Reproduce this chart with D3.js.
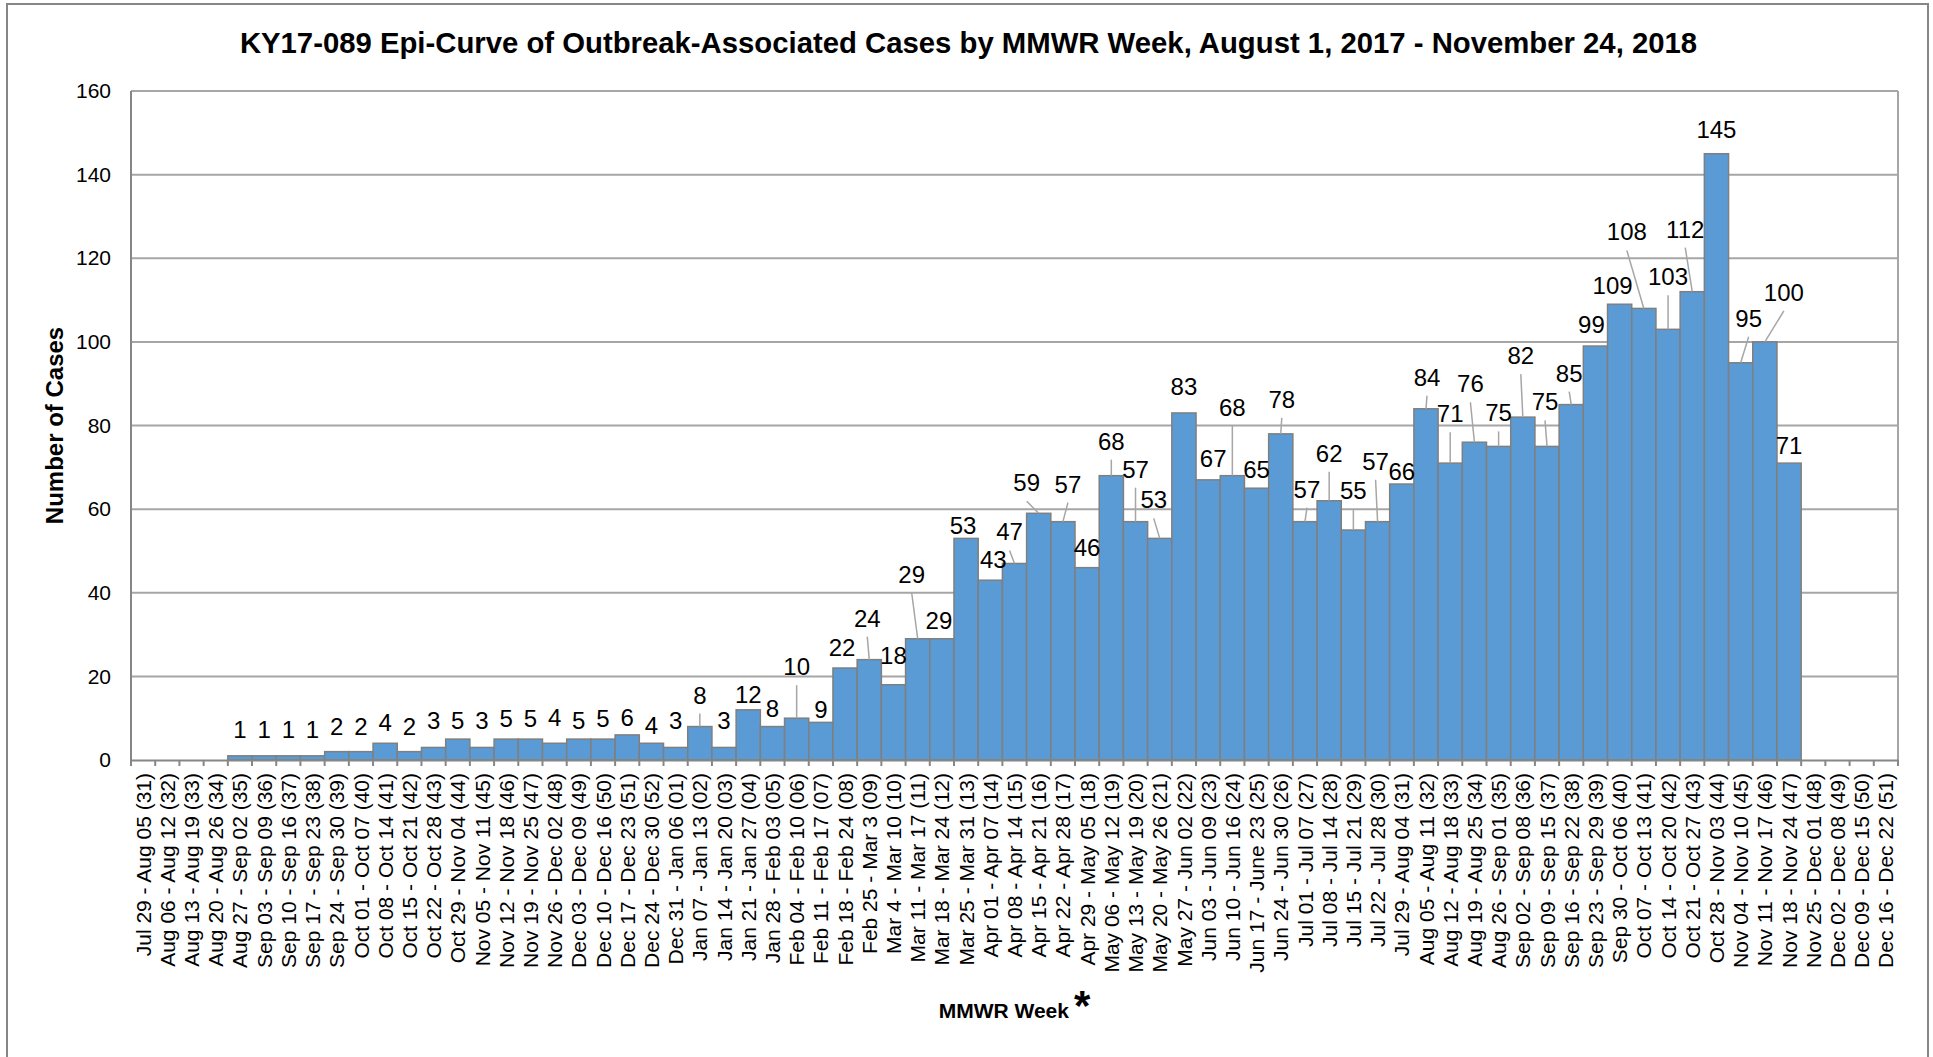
<!DOCTYPE html>
<html>
<head>
<meta charset="utf-8">
<script src="https://cdn.jsdelivr.net/npm/d3@7"></script>
<style>
  html, body { margin: 0; padding: 0; background: #fff; }
  svg { display: block; font-family: "Liberation Sans", Arial, sans-serif; }
</style>
</head>
<body>
<svg id="chart" width="1933" height="1057"></svg>
<script>
// ---------------- DATA ----------------
const chartTitle = "KY17-089 Epi-Curve of Outbreak-Associated Cases by MMWR Week, August 1, 2017 - November 24, 2018";
const yAxisTitle = "Number of Cases";
const xAxisTitle = "MMWR Week";

const weeks = [
  "Jul 29 - Aug 05 (31)", "Aug 06 - Aug 12 (32)", "Aug 13 - Aug 19 (33)", "Aug 20 - Aug 26 (34)",
  "Aug 27 - Sep 02 (35)", "Sep 03 - Sep 09 (36)", "Sep 10 - Sep 16 (37)", "Sep 17 - Sep 23 (38)",
  "Sep 24 - Sep 30 (39)", "Oct 01 - Oct 07 (40)", "Oct 08 - Oct 14 (41)", "Oct 15 - Oct 21 (42)",
  "Oct 22 - Oct 28 (43)", "Oct 29 - Nov 04 (44)", "Nov 05 - Nov 11 (45)", "Nov 12 - Nov 18 (46)",
  "Nov 19 - Nov 25 (47)", "Nov 26 - Dec 02 (48)", "Dec 03 - Dec 09 (49)", "Dec 10 - Dec 16 (50)",
  "Dec 17 - Dec 23 (51)", "Dec 24 - Dec 30 (52)", "Dec 31 - Jan 06 (01)", "Jan 07 - Jan 13 (02)",
  "Jan 14 - Jan 20 (03)", "Jan 21 - Jan 27 (04)", "Jan 28 - Feb 03 (05)", "Feb 04 - Feb 10 (06)",
  "Feb 11 - Feb 17 (07)", "Feb 18 - Feb 24 (08)", "Feb 25 - Mar 3 (09)", "Mar 4 - Mar 10 (10)",
  "Mar 11 - Mar 17 (11)", "Mar 18 - Mar 24 (12)", "Mar 25 - Mar 31 (13)", "Apr 01 - Apr 07 (14)",
  "Apr 08 - Apr 14 (15)", "Apr 15 - Apr 21 (16)", "Apr 22 - Apr 28 (17)", "Apr 29 - May 05 (18)",
  "May 06 - May 12 (19)", "May 13 - May 19 (20)", "May 20 - May 26 (21)", "May 27 - Jun 02 (22)",
  "Jun 03 - Jun 09 (23)", "Jun 10 - Jun 16 (24)", "Jun 17 - June 23 (25)", "Jun 24 - Jun 30 (26)",
  "Jul 01 - Jul 07 (27)", "Jul 08 - Jul 14 (28)", "Jul 15 - Jul 21 (29)", "Jul 22 - Jul 28 (30)",
  "Jul 29 - Aug 04 (31)", "Aug 05 - Aug 11 (32)", "Aug 12 - Aug 18 (33)", "Aug 19 - Aug 25 (34)",
  "Aug 26 - Sep 01 (35)", "Sep 02 - Sep 08 (36)", "Sep 09 - Sep 15 (37)", "Sep 16 - Sep 22 (38)",
  "Sep 23 - Sep 29 (39)", "Sep 30 - Oct 06 (40)", "Oct 07 - Oct 13 (41)", "Oct 14 - Oct 20 (42)",
  "Oct 21 - Oct 27 (43)", "Oct 28 - Nov 03 (44)", "Nov 04 - Nov 10 (45)", "Nov 11 - Nov 17 (46)",
  "Nov 18 - Nov 24 (47)", "Nov 25 - Dec 01 (48)", "Dec 02 - Dec 08 (49)", "Dec 09 - Dec 15 (50)",
  "Dec 16 - Dec 22 (51)"
];

const cases = [
  0, 0, 0, 0, 1, 1, 1, 1, 2, 2, 4, 2, 3, 5, 3, 5, 5, 4, 5, 5, 6, 4,
  3, 8, 3, 12, 8, 10, 9, 22, 24, 18, 29, 29, 53, 43, 47, 59, 57, 46, 68, 57, 53, 83,
  67, 68, 65, 78, 57, 62, 55, 57, 66, 84, 71, 76, 75, 82, 75, 85, 99, 109, 108, 103, 112, 145,
  95, 100, 71, 0, 0, 0, 0
];

const yTicks = [0, 20, 40, 60, 80, 100, 120, 140, 160];

// ------------- LABEL LAYOUT (annotation placement, not data) -------------
// per bar: [lift above bar top in px, horizontal shift in px, leader line?]
const labelLayout = {
  4:[18,0,0],5:[18,0,0],6:[18,0,0],7:[18,0,0],8:[17,0,0],9:[17,0,0],10:[12,0,0],11:[17,0,0],
  12:[18,0,0],13:[10,0,0],14:[18,0,0],15:[12,0,0],16:[12,0,0],17:[17,0,0],18:[10,0,0],19:[12,0,0],
  20:[9,0,0],21:[9,0,0],22:[18,0,0],23:[23,0,1],24:[18,0,0],25:[7,0,0],26:[10,0,0],27:[43,0,1],
  28:[4,0,0],29:[12,-3,0],30:[33,-2,1],31:[21,0,0],32:[56,-6,1],33:[10,-3,0],34:[4,-3,0],35:[12,3,0],
  36:[23,-5,1],37:[22,-12,1],38:[29,5,1],39:[12,0,0],40:[26,0,1],41:[44,0,1],42:[30,-6,1],43:[18,0,0],
  44:[13,5,0],45:[60,0,1],46:[10,0,0],47:[26,1,1],48:[24,2,1],49:[39,0,1],50:[31,0,1],51:[52,-2,1],
  52:[4,0,0],53:[23,1,1],54:[41,0,1],55:[50,-4,1],56:[25,0,1],57:[53,-2,1],58:[36,-2,1],59:[23,-2,1],
  60:[13,-4,0],61:[10,-7,0],62:[68,-17,1],63:[44,0,1],64:[54,-7,1],65:[16,0,0],66:[36,8,1],67:[41,19,1],
  68:[9,0,0]
};

// ---------------- CHART ----------------
const svg = d3.select("#chart");
const W = 1933, H = 1057;
const m = { left: 131, right: 1898, top: 91, bottom: 760 };

const gridColor = "#a6a6a6";
const axisColor = "#868686";
const FONT = "'Liberation Sans', Arial, sans-serif";

// outer frame
svg.append("rect")
  .attr("x", 7).attr("y", 4)
  .attr("width", 1928 - 7).attr("height", 1070)
  .attr("fill", "#fff").attr("stroke", axisColor).attr("stroke-width", 2);

const x = d3.scaleBand().domain(weeks).range([m.left, m.right]).paddingInner(0).paddingOuter(0);
const y = d3.scaleLinear().domain([0, 160]).range([m.bottom, m.top]);

// gridlines
svg.append("g")
  .selectAll("line.grid")
  .data(yTicks.filter(t => t > 0))
  .join("line")
  .attr("x1", m.left).attr("x2", m.right)
  .attr("y1", d => y(d)).attr("y2", d => y(d))
  .attr("stroke", gridColor).attr("stroke-width", 2);

// right border of plot
svg.append("line")
  .attr("x1", m.right).attr("x2", m.right)
  .attr("y1", m.top).attr("y2", m.bottom)
  .attr("stroke", gridColor).attr("stroke-width", 2);

// y-axis tick labels
const yAxis = d3.axisLeft(y).tickValues(yTicks).tickSize(0).tickPadding(20);
const yg = svg.append("g").attr("transform", `translate(${m.left},0)`).call(yAxis);
yg.select(".domain").remove();
yg.selectAll("text")
  .attr("font-size", 21)
  .attr("font-family", FONT)
  .attr("fill", "#000");

// bars
const bw = x.bandwidth();
svg.append("g")
  .selectAll("rect.bar")
  .data(weeks.map((w, i) => ({ w, v: cases[i], i })).filter(d => d.v > 0))
  .join("rect")
  .attr("x", d => x(d.w))
  .attr("y", d => y(d.v))
  .attr("width", bw)
  .attr("height", d => y(0) - y(d.v))
  .attr("fill", "#5b9bd5")
  .attr("stroke", "#7f7f7f")
  .attr("stroke-width", 1.5);

// y axis line (left)
svg.append("line")
  .attr("x1", m.left).attr("x2", m.left)
  .attr("y1", m.top).attr("y2", m.bottom)
  .attr("stroke", axisColor).attr("stroke-width", 2);

// x axis
const xAxis = d3.axisBottom(x).tickSize(0).tickPadding(0);
const xg = svg.append("g").attr("transform", `translate(0,${m.bottom})`).call(xAxis);
xg.select(".domain").attr("stroke", axisColor).attr("stroke-width", 2);
xg.selectAll("text")
  .attr("font-size", 21)
  .attr("font-family", FONT)
  .attr("fill", "#000")
  .attr("text-anchor", "end")
  .attr("transform", "rotate(-90)")
  .attr("x", -13)
  .attr("y", 0)
  .attr("dy", "0.36em");

// boundary tick marks
const edges = weeks.map(w => x(w)).concat([x(weeks[weeks.length - 1]) + bw]);
svg.append("g")
  .selectAll("line")
  .data(edges)
  .join("line")
  .attr("x1", d => d).attr("x2", d => d)
  .attr("y1", m.bottom).attr("y2", m.bottom + 6)
  .attr("stroke", axisColor).attr("stroke-width", 2);

// data labels and leader lines
const labelData = weeks.map((w, i) => ({ w, v: cases[i], i })).filter(d => d.v > 0).map(d => {
  const L = labelLayout[d.i] || [5, 0, 0];
  const cx = x(d.w) + bw / 2;
  return { ...d, cx, lx: cx + L[1], ly: y(d.v) - L[0], leader: L[2] };
});

svg.append("g")
  .selectAll("line")
  .data(labelData.filter(d => d.leader))
  .join("line")
  .attr("x1", d => d.lx).attr("y1", d => d.ly + 10)
  .attr("x2", d => d.cx).attr("y2", d => y(d.v))
  .attr("stroke", "#a6a6a6").attr("stroke-width", 1.5);

svg.append("g")
  .selectAll("text")
  .data(labelData)
  .join("text")
  .attr("x", d => d.lx)
  .attr("y", d => d.ly)
  .attr("text-anchor", "middle")
  .attr("font-size", 24)
  .attr("fill", "#000")
  .text(d => d.v);

// title
svg.append("text")
  .attr("x", W / 2 + 2).attr("y", 53)
  .attr("text-anchor", "middle")
  .attr("font-size", 29.3)
  .attr("font-weight", "bold")
  .attr("fill", "#000")
  .text(chartTitle);

// y-axis title
svg.append("text")
  .attr("transform", `translate(55,${(m.top + m.bottom) / 2}) rotate(-90)`)
  .attr("text-anchor", "middle")
  .attr("dy", "0.35em")
  .attr("font-size", 24)
  .attr("font-weight", "bold")
  .attr("fill", "#000")
  .text(yAxisTitle);

// x-axis title with asterisk
const xt = svg.append("text")
  .attr("x", (m.left + m.right) / 2).attr("y", 1018)
  .attr("text-anchor", "middle")
  .attr("font-weight", "bold")
  .attr("fill", "#000");
xt.append("tspan").attr("font-size", 21).text(xAxisTitle);
xt.append("tspan").attr("font-size", 42).attr("dx", 5).attr("dy", 2).text("*");
</script>
</body>
</html>
